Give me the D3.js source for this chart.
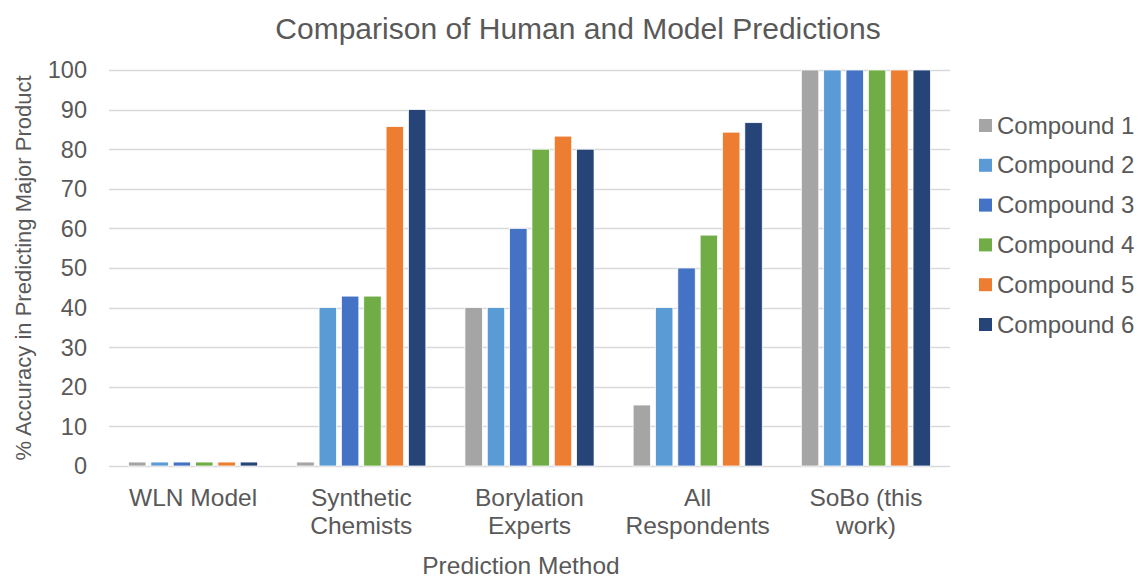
<!DOCTYPE html>
<html>
<head>
<meta charset="utf-8">
<script src="https://cdn.jsdelivr.net/npm/d3@7"></script>
<style>
  body { margin: 0; background: #fff; }
  text { font-family: "Liberation Sans", Arial, sans-serif; fill: #595959; }
</style>
</head>
<body>
<div id="chart"></div>
<script>
// categories and series
var categories = [["WLN Model"], ["Synthetic", "Chemists"], ["Borylation", "Experts"], ["All", "Respondents"], ["SoBo (this", "work)"]];
var seriesNames = ["Compound 1", "Compound 2", "Compound 3", "Compound 4", "Compound 5", "Compound 6"];
var seriesColors = ["#A5A5A5", "#5B9BD5", "#4472C4", "#70AD47", "#ED7D31", "#264478"];
// values per compound, one entry per category
var compound1 = [1, 1, 40, 15.4, 100];
var compound2 = [1, 40, 40, 40, 100];
var compound3 = [1, 42.9, 60, 50, 100];
var compound4 = [1, 42.9, 80, 58.3, 100];
var compound5 = [1, 85.7, 83.3, 84.3, 100];
var compound6 = [1, 90, 80, 86.7, 100];
var yTicks = [0, 10, 20, 30, 40, 50, 60, 70, 80, 90, 100];

var allSeries = [compound1, compound2, compound3, compound4, compound5, compound6];

var width = 1141, height = 579;
var margin = {left: 109, right: 191, top: 70, bottom: 113};

var svg = d3.select("#chart").append("svg")
    .attr("width", width)
    .attr("height", height);

var x0 = d3.scaleBand()
    .domain(d3.range(categories.length))
    .range([margin.left, width - margin.right]);

var x1 = d3.scaleBand()
    .domain(d3.range(seriesNames.length))
    .range([0, x0.bandwidth()])
    .paddingInner(0.22)
    .paddingOuter(0.875);

var y = d3.scaleLinear()
    .domain([0, 100])
    .range([height - margin.bottom, margin.top]);

// gridlines
svg.append("g")
    .selectAll("line")
    .data(yTicks)
    .enter().append("line")
    .attr("x1", margin.left)
    .attr("x2", width - margin.right)
    .attr("y1", function(d) { return Math.round(y(d)) + 0.5; })
    .attr("y2", function(d) { return Math.round(y(d)) + 0.5; })
    .attr("stroke", "#D9D9D9")
    .attr("stroke-width", 1.3);

// y tick labels
svg.append("g")
    .selectAll("text")
    .data(yTicks)
    .enter().append("text")
    .attr("x", 87)
    .attr("y", function(d) { return y(d); })
    .attr("dy", "0.36em")
    .attr("text-anchor", "end")
    .style("font-size", "23.5px")
    .text(function(d) { return d; });

// bars
var groups = svg.append("g")
    .selectAll("g")
    .data(categories)
    .enter().append("g")
    .attr("transform", function(d, i) { return "translate(" + x0(i) + ",0)"; });

groups.selectAll("rect")
    .data(function(d, i) { return allSeries.map(function(s, j) { return {s: j, v: s[i]}; }); })
    .enter().append("rect")
    .attr("x", function(d) { return x1(d.s); })
    .attr("width", x1.bandwidth())
    .attr("y", function(d) { return y(d.v); })
    .attr("height", function(d) { return y(0) - y(d.v); })
    .attr("fill", function(d) { return seriesColors[d.s]; })
    .attr("stroke", "#fff")
    .attr("stroke-width", 0.75);

// x labels
groups.each(function(d, i) {
    var t = d3.select(this).append("text")
        .attr("text-anchor", "middle")
        .style("font-size", "24.5px");
    d.forEach(function(line, k) {
        t.append("tspan")
            .attr("x", x0.bandwidth() / 2)
            .attr("y", 506 + k * 28)
            .text(line);
    });
});

// title
svg.append("text")
    .attr("x", 578)
    .attr("y", 39)
    .attr("text-anchor", "middle")
    .style("font-size", "30px")
    .text("Comparison of Human and Model Predictions");

// axis titles
svg.append("text")
    .attr("x", 521)
    .attr("y", 574)
    .attr("text-anchor", "middle")
    .style("font-size", "24.5px")
    .text("Prediction Method");

svg.append("text")
    .attr("transform", "translate(31," + y(50) + ") rotate(-90)")
    .attr("text-anchor", "middle")
    .style("font-size", "22px")
    .text("% Accuracy in Predicting Major Product");

// legend
var legend = svg.append("g")
    .selectAll("g")
    .data(seriesNames)
    .enter().append("g")
    .attr("transform", function(d, i) { return "translate(979," + (125 + i * 39.8) + ")"; });

legend.append("rect")
    .attr("x", 0)
    .attr("y", -6)
    .attr("width", 13)
    .attr("height", 13)
    .attr("fill", function(d, i) { return seriesColors[i]; });

legend.append("text")
    .attr("x", 18)
    .attr("dy", "0.36em")
    .style("font-size", "24px")
    .text(function(d) { return d; });
</script>
</body>
</html>
